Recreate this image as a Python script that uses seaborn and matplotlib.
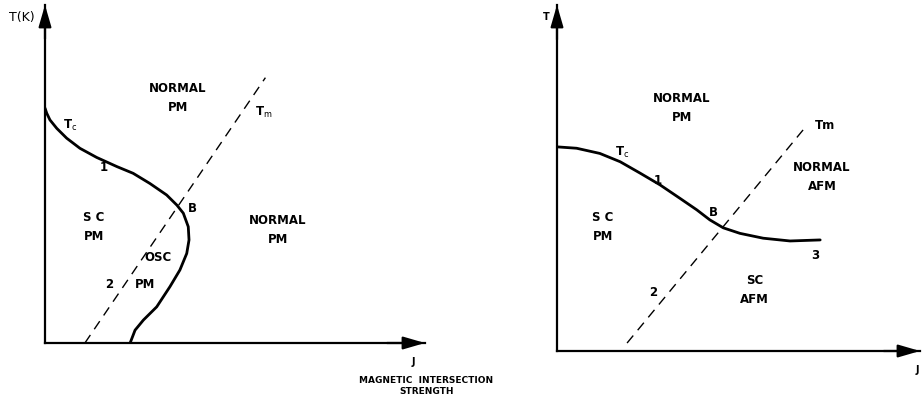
import matplotlib
matplotlib.use("Agg")
import matplotlib.pyplot as plt
import seaborn as sns

sns.set_theme(style="white")
plt.rcParams['font.family'] = ['DejaVu Sans']

# ---- data (arbitrary units 0-100) ----
left_tc_J = [0.0, 0.45, 1.3, 3.1, 5.7, 9.2, 13.6, 18.9, 23.2, 27.6, 32.0, 34.7, 36.4, 37.7, 37.9, 37.3, 35.5, 32.9, 29.4, 25.9, 23.7, 22.4]
left_tc_T = [69.5, 68.0, 66.0, 63.5, 60.6, 57.6, 54.9, 52.2, 50.2, 47.2, 43.8, 40.8, 38.4, 34.4, 30.5, 26.5, 21.6, 16.7, 10.7, 6.8, 3.8, 0.0]
left_tm_J = [10.5, 58.0]
left_tm_T = [0.0, 78.5]

right_tc_J = [0.0, 5.4, 11.8, 17.4, 22.9, 28.4, 33.9, 38.5, 42.1, 45.8, 50.4, 56.8, 64.2, 72.5]
right_tc_T = [59.0, 58.6, 57.1, 54.7, 51.4, 48.0, 44.1, 40.8, 37.9, 35.6, 34.0, 32.6, 31.8, 32.1]
right_tm_J = [19.3, 68.9]
right_tm_T = [2.3, 65.3]

left_labels = [
    ("NORMAL\nPM", 35.0, 72.6), ("T$_{\\rm m}$", 57.5, 68.3), ("T$_{\\rm c}$", 6.5, 64.5),
    ("1", 15.5, 51.8), ("B", 38.8, 39.9), ("S C\nPM", 12.9, 34.3),
    ("NORMAL\nPM", 61.3, 33.4), ("OSC", 29.7, 25.4), ("2", 16.8, 17.2), ("PM", 26.3, 17.2),
]
right_labels = [
    ("NORMAL\nPM", 34.4, 70.2), ("Tm", 73.8, 65.3), ("T$_{\\rm c}$", 17.9, 57.5),
    ("1", 27.8, 49.4), ("NORMAL\nAFM", 73.0, 50.3), ("B", 43.0, 39.9),
    ("S C\nPM", 12.7, 35.8), ("3", 71.1, 27.7), ("SC\nAFM", 54.5, 17.6), ("2", 26.4, 16.8),
]

W, H = 922, 404
fig = plt.figure(figsize=(W / 100, H / 100), dpi=100)

def make_axes(x0, y_axis_px, x_tip, y_top):
    return fig.add_axes([x0 / W, (H - y_axis_px) / H, (x_tip - x0) / W, (y_axis_px - y_top) / H])

axL = make_axes(45, 343, 425, 5)
axR = make_axes(557, 351, 920, 5)

def style_axes(ax):
    ax.set_xlim(0, 100)
    ax.set_ylim(0, 100)
    ax.set_xticks([])
    ax.set_yticks([])
    ax.set_facecolor("white")
    for s in ["top", "right"]:
        ax.spines[s].set_visible(False)
    for s in ["left", "bottom"]:
        ax.spines[s].set_color("black")
        ax.spines[s].set_linewidth(1.6)
    ap = dict(arrowstyle="-|>,head_length=1.1,head_width=0.32", color="black", lw=1.6,
              shrinkA=0, shrinkB=0)
    ax.annotate("", xy=(1.0, 0), xytext=(0.9, 0), xycoords="axes fraction",
                arrowprops=ap, annotation_clip=False)
    ax.annotate("", xy=(0, 1.0), xytext=(0, 0.9), xycoords="axes fraction",
                arrowprops=ap, annotation_clip=False)

for ax, tcJ, tcT, tmJ, tmT, labels in [
    (axL, left_tc_J, left_tc_T, left_tm_J, left_tm_T, left_labels),
    (axR, right_tc_J, right_tc_T, right_tm_J, right_tm_T, right_labels),
]:
    style_axes(ax)
    sns.lineplot(x=tcJ, y=tcT, sort=False, estimator=None, ax=ax, color="black", linewidth=2.0,
                 solid_joinstyle="round", solid_capstyle="round")
    l = sns.lineplot(x=tmJ, y=tmT, sort=False, estimator=None, ax=ax, color="black", linewidth=1.0)
    l.lines[-1].set_dashes((7, 5))
    for txt, x, y in labels:
        ax.text(x, y, txt, ha="center", va="center", fontsize=8.5, fontweight="bold",
                linespacing=1.6, color="black")

axL.text(-6.1, 96.2, "T(K)", ha="center", va="center", fontsize=9, color="black")
axL.text(96.8, -5.6, "J", ha="center", va="center", fontsize=7, fontweight="bold", color="black")
axL.text(100.3, -12.8, "MAGNETIC  INTERSECTION\nSTRENGTH", ha="center", va="center", fontsize=6.5,
         fontweight="bold", linespacing=1.3, color="black")
axR.text(-3.0, 96.5, "T", ha="center", va="center", fontsize=7, fontweight="bold", color="black")
axR.text(99.2, -5.5, "J", ha="center", va="center", fontsize=7, fontweight="bold", color="black")

fig.savefig("out.png", dpi=100, facecolor="white")
